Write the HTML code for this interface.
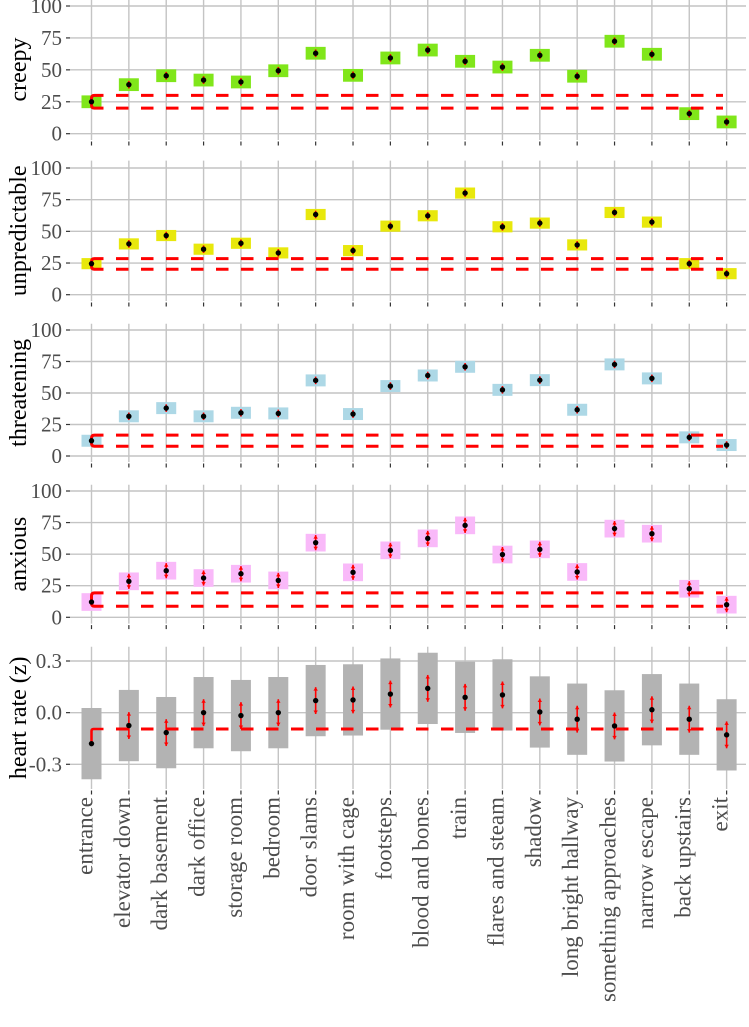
<!DOCTYPE html>
<html><head><meta charset="utf-8"><style>
html,body{margin:0;padding:0;background:#fff;}
svg{display:block;font-family:"Liberation Serif",serif;}
svg text{font-family:"Liberation Serif","DejaVu Serif",serif;}
</style></head><body>
<svg id="chart" width="749" height="1027" viewBox="0 0 749 1027" xmlns="http://www.w3.org/2000/svg"></svg>
<script>
const categories = ["entrance","elevator down","dark basement","dark office","storage room","bedroom","door slams","room with cage","footsteps","blood and bones","train","flares and steam","shadow","long bright hallway","something approaches","narrow escape","back upstairs","exit"];
const creepyValues = [25,38.4,45.4,42,40.5,49.3,63,45.7,59.3,65.5,56.7,52.2,61.4,45,72.4,62.2,15.7,9.2];
const unpredictableValues = [24.5,40.1,46.7,35.9,40.6,33,63.3,34.8,54.1,62.3,80.2,53.6,56.5,39.3,64.9,57.3,24.5,16.6];
const threateningValues = [12.1,31.5,38,31.5,34.3,33.8,60,33.3,55.5,63.9,70.8,52.5,60.2,36.7,72.7,61.6,14.8,8.7];
const anxiousValues = [12.1,28.5,36.9,31.1,34.5,29.2,59.1,35.6,53,62.5,72.8,49.7,53.8,35.9,70.2,66.2,22.6,10];
const heartRateValues = [-0.18,-0.075,-0.116,0,-0.017,0,0.07,0.074,0.108,0.141,0.089,0.103,0.004,-0.038,-0.077,0.017,-0.038,-0.129];
const ratingTicks = [0,25,50,75,100];
const heartTicks = [-0.3,0.0,0.3];
const heartTickLabels = ["-0.3","0.0","0.3"];
const creepyRef = [20,30];
const unpredictableRef = [20.1,28.5];
const threateningRef = [7.7,16.6];
const anxiousRef = [8.7,19.3];
const heartRef = [-0.095];

const svg = document.getElementById('chart');
const NS = 'http://www.w3.org/2000/svg';
function mk(tag, attrs, parent){const e=document.createElementNS(NS,tag);for(const k in attrs)e.setAttribute(k,attrs[k]);(parent||svg).appendChild(e);return e;}
const x0 = 91.5, dx = 37.36;
function xScale(i){return x0 + i*dx;}

const panels = [
 {name:'creepy',title:'creepy',vals:creepyValues,ref:creepyRef,color:'#80e61a',top:-1,bottom:140,d0:0,d1:100,p0:133.7,p1:6,box:5,err:3,ticks:ratingTicks,labels:ratingTicks.map(String)},
 {name:'unpredictable',title:'unpredictable',vals:unpredictableValues,ref:unpredictableRef,color:'#e8e80c',top:160.6,bottom:301,d0:0,d1:100,p0:294.7,p1:168,box:4.4,err:3,ticks:ratingTicks,labels:ratingTicks.map(String)},
 {name:'threatening',title:'threatening',vals:threateningValues,ref:threateningRef,color:'#add8e6',top:323.7,bottom:462,d0:0,d1:100,p0:456,p1:330,box:4.75,err:3,ticks:ratingTicks,labels:ratingTicks.map(String)},
 {name:'anxious',title:'anxious',vals:anxiousValues,ref:anxiousRef,color:'#f9b9f9',top:484.7,bottom:623.6,d0:0,d1:100,p0:617.3,p1:491,box:7,err:6,ticks:ratingTicks,labels:ratingTicks.map(String)},
 {name:'heart-rate',title:'heart rate (z)',vals:heartRateValues,ref:heartRef,color:'#b3b3b3',top:646.7,bottom:789,d0:-0.3,d1:0.3,p0:764.3,p1:661,box:0.207,err:0.078,ticks:heartTicks,labels:heartTickLabels}
];

panels.forEach(p=>{
  const g = mk('g',{});
  
  
  const y = v => p.p0 + (v - p.d0)*(p.p1 - p.p0)/(p.d1 - p.d0);
  p.ticks.forEach((t,k)=>{
    const gl = mk('line',{x1:70,x2:746,y1:y(t),y2:y(t),stroke:'#c4c4c4','stroke-width':1.4},g);
    
    
    mk('line',{x1:66,x2:70,y1:y(t),y2:y(t),stroke:'#333','stroke-width':1.2},g);
    const tl = mk('text',{x:62,y:y(t)+7,'text-anchor':'end','font-size':21,fill:'#4d4d4d'},g);
    tl.textContent = p.labels[k];
    
    
  });
  categories.forEach((c,i)=>{
    const gv = mk('line',{x1:xScale(i),x2:xScale(i),y1:Math.max(0,p.top),y2:p.bottom,stroke:'#c4c4c4','stroke-width':1.4},g);
    
    
    mk('line',{x1:xScale(i),x2:xScale(i),y1:p.bottom+1.5,y2:p.bottom+5.5,stroke:'#333','stroke-width':1.2},g);
  });
  const cy = (p.top+p.bottom)/2;
  const tt = mk('text',{x:0,y:0,'text-anchor':'middle','font-size':24,fill:'#000',transform:`translate(26,${cy}) rotate(-90)`},g);
  tt.textContent = p.title;
  
  
  p.vals.forEach((v,i)=>{
    const yt = y(v + p.box), yb = y(v - p.box);
    const r = mk('rect',{x:xScale(i)-10,y:yt,width:20,height:yb-yt,fill:p.color},g);
    
    
  });
  const ex = xScale(0);
  p.ref.forEach(rv=>{
    const dl = mk('line',{x1:116,x2:723,y1:y(rv),y2:y(rv),stroke:'#ff0000','stroke-width':3,'stroke-dasharray':'12.5 12.5'},g);
    
    
  });
  if(p.ref.length===2){
    const ya=y(p.ref[1]), yb=y(p.ref[0]);
    mk('path',{d:`M${ex+12},${ya} L${ex+3},${ya} Q${ex},${ya} ${ex},${ya+3} L${ex},${yb-3} Q${ex},${yb} ${ex+3},${yb} L${ex+12},${yb}`,fill:'none',stroke:'#ff0000','stroke-width':3},g);
  } else {
    const yr=y(p.ref[0]);
    mk('path',{d:`M${ex},${y(p.vals[0])} L${ex},${yr+2} Q${ex},${yr} ${ex+2},${yr} L${ex+12},${yr}`,fill:'none',stroke:'#ff0000','stroke-width':2.5},g);
  }
  p.vals.forEach((v,i)=>{
    const xi = xScale(i);
    if(i>0){
      const yh=y(v+p.err), yl=y(v-p.err);
      const eb = mk('line',{x1:xi,x2:xi,y1:yh,y2:yl,stroke:'#ff0000','stroke-width':1.6},g);
      
      
      mk('path',{d:`M${xi-2.2},${yh+3.5} L${xi},${yh} L${xi+2.2},${yh+3.5}Z`,fill:'#ff0000'},g);
      mk('path',{d:`M${xi-2.2},${yl-3.5} L${xi},${yl} L${xi+2.2},${yl-3.5}Z`,fill:'#ff0000'},g);
    }
    const pt = mk('circle',{cx:xi,cy:y(v),r:2.7,fill:'#000'},g);
    
    
  });
});
categories.forEach((c,i)=>{
  const t = mk('text',{x:0,y:0,'text-anchor':'end','font-size':23,fill:'#4d4d4d',transform:`translate(${xScale(i)+1},797) rotate(-90)`});
  t.textContent = c;
  
  
});
</script>
</body></html>
